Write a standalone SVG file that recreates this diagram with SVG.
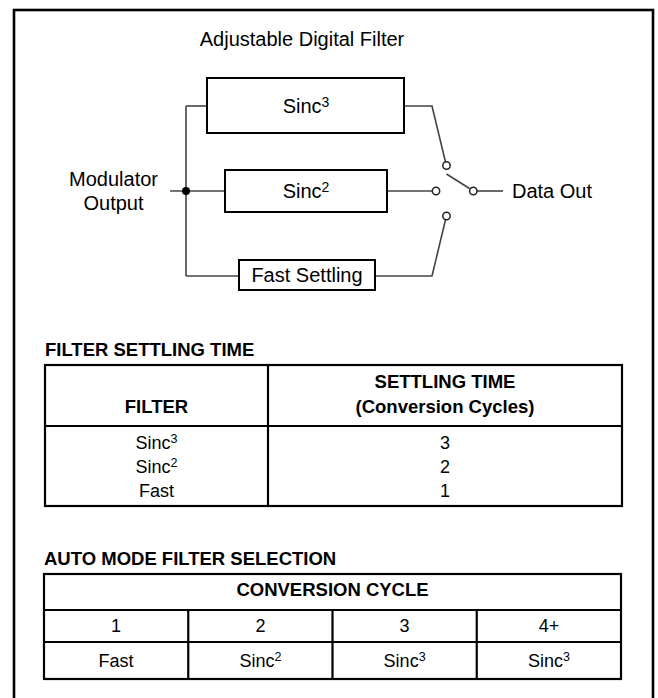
<svg xmlns="http://www.w3.org/2000/svg" width="658" height="698" viewBox="0 0 658 698">
<style>
text{font-family:"Liberation Sans",Arial,sans-serif;fill:#000}
.lbl{font-size:20px}
.mid{text-anchor:middle}
.b{font-weight:bold;font-size:18.5px}
.t{font-size:18px}
.box{fill:#fff;stroke:#000;stroke-width:2}
.wire{fill:none;stroke:#444;stroke-width:1.6}
.pin{fill:#fff;stroke:#222;stroke-width:1.5}
.grid{fill:none;stroke:#000;stroke-width:2.2}
</style>
<rect x="14" y="10" width="639" height="700" fill="#fff" stroke="#000" stroke-width="2.6"/>
<text class="lbl mid" x="302" y="46">Adjustable Digital Filter</text>
<g id="connectors">
<path class="wire" d="M170,191 H225"/>
<path class="wire" d="M186,106 V276"/>
<path class="wire" d="M186,106 H207"/>
<path class="wire" d="M186,276 H239"/>
<path class="wire" d="M404,106 H432 L445.5,162"/>
<path class="wire" d="M387,191 H432.3"/>
<path class="wire" d="M375,276 H432 L445.5,219.8"/>
<path class="wire" d="M446.5,174 L469.5,188.5"/>
<path class="wire" d="M477,191 H503"/>
<circle cx="186" cy="191" r="4" fill="#000"/>
<circle class="pin" cx="446.5" cy="165.5" r="3.7"/>
<circle class="pin" cx="436" cy="191" r="3.7"/>
<circle class="pin" cx="473.3" cy="191" r="3.7"/>
<circle class="pin" cx="446.5" cy="216" r="3.7"/>
</g>
<g id="input">
<text class="lbl mid" x="113.5" y="186">Modulator</text>
<text class="lbl mid" x="113.5" y="210">Output</text>
</g>
<g id="output">
<text class="lbl" x="512" y="198">Data Out</text>
</g>
<g id="sinc3">
<rect class="box" x="207" y="78" width="197" height="55"/>
<text class="lbl mid" x="306" y="113">Sinc<tspan font-size="14" dy="-6.5">3</tspan></text>
</g>
<g id="sinc2">
<rect class="box" x="225" y="170" width="162" height="42"/>
<text class="lbl mid" x="306" y="198">Sinc<tspan font-size="14" dy="-6.5">2</tspan></text>
</g>
<g id="fast">
<rect class="box" x="239" y="260" width="136" height="30"/>
<text class="lbl mid" x="307" y="282">Fast Settling</text>
</g>
<g id="table1">
<text class="b" x="45" y="356">FILTER SETTLING TIME</text>
<rect class="grid" x="45" y="365" width="577" height="141"/>
<path class="grid" d="M45,426 H622 M268,365 V506"/>
<text class="b mid" x="156.5" y="413">FILTER</text>
<text class="b mid" x="445" y="388">SETTLING TIME</text>
<text class="b mid" x="445" y="413">(Conversion Cycles)</text>
<text class="t mid" x="156.5" y="449">Sinc<tspan font-size="12.5" dy="-6">3</tspan></text>
<text class="t mid" x="156.5" y="473">Sinc<tspan font-size="12.5" dy="-6">2</tspan></text>
<text class="t mid" x="156.5" y="497">Fast</text>
<text class="t mid" x="445" y="449">3</text>
<text class="t mid" x="445" y="473">2</text>
<text class="t mid" x="445" y="497">1</text>
</g>
<g id="table2">
<text class="b" x="44" y="565">AUTO MODE FILTER SELECTION</text>
<rect class="grid" x="44" y="574" width="577" height="105"/>
<path class="grid" d="M44,610 H621 M44,642 H621 M188.25,610 V679 M332.5,610 V679 M476.75,610 V679"/>
<text class="b mid" x="332.5" y="596">CONVERSION CYCLE</text>
<text class="t mid" x="116" y="632">1</text>
<text class="t mid" x="260.4" y="632">2</text>
<text class="t mid" x="404.6" y="632">3</text>
<text class="t mid" x="548.9" y="632">4+</text>
<text class="t mid" x="116" y="667">Fast</text>
<text class="t mid" x="260.4" y="667">Sinc<tspan font-size="12.5" dy="-6">2</tspan></text>
<text class="t mid" x="404.6" y="667">Sinc<tspan font-size="12.5" dy="-6">3</tspan></text>
<text class="t mid" x="548.9" y="667">Sinc<tspan font-size="12.5" dy="-6">3</tspan></text>
</g>
</svg>
